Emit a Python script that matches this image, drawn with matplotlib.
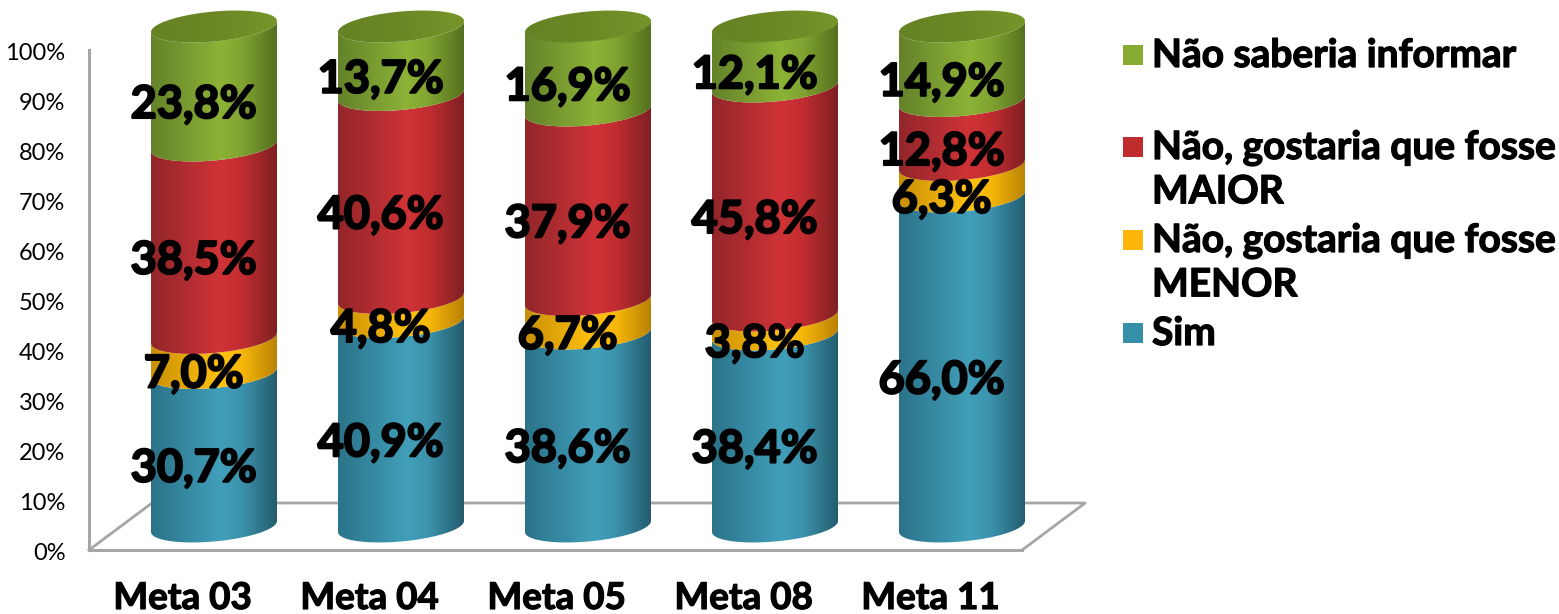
import numpy as np
import matplotlib
matplotlib.use('Agg')
import matplotlib.pyplot as plt
import matplotlib.patheffects as pe
from matplotlib.colors import LinearSegmentedColormap
from matplotlib.patches import PathPatch, Rectangle
from matplotlib.path import Path
from matplotlib.transforms import ScaledTranslation

plt.rcParams['font.family'] = ['Lato', 'DejaVu Sans']

metas = ['Meta 03', 'Meta 04', 'Meta 05', 'Meta 08', 'Meta 11']
sim = [30.7, 40.9, 38.6, 38.4, 66.0]
menor = [7.0, 4.8, 6.7, 3.8, 6.3]
maior = [38.5, 40.6, 37.9, 45.8, 12.8]
nao_sabe = [23.8, 13.7, 16.9, 12.1, 14.9]
y_ticks = [0, 10, 20, 30, 40, 50, 60, 70, 80, 90, 100]

series = [sim, menor, maior, nao_sabe]
# left edge, light band, right of band, right edge for the cylinder shading
shades = [
    ['#2b7389', '#419fba', '#3c93ad', '#235c6e'],
    ['#c98f05', '#ffc20e', '#f7b80a', '#b98204'],
    ['#92262a', '#cf3337', '#c22d30', '#7f2023'],
    ['#64822a', '#8cb236', '#81a431', '#55701f'],
]
top_shade = ['#668224', '#6b8826', '#769529']

W, H = 1559, 614
fig = plt.figure(figsize=(W / 100, H / 100), dpi=100)
ax = fig.add_axes([89 / W, 1 - 550 / H, 935 / W, 500 / H])

# depth of the 3D floor, in axis units
depth_x, depth_y = 63 / 187, 47 / 5
half = 63 / 187
ell_h, ell_tilt = 3.0, 1.1
x_end = 4.49

t = np.linspace(np.pi, 0, 80)
curve_x = half * np.cos(t)
curve_y = ell_tilt * np.cos(t) - ell_h * np.sin(t)


def shade(ax, path, x0, x1, y0, y1, cmap, zorder):
    im = ax.imshow(np.linspace(0, 1, 256)[None, :], cmap=cmap, aspect='auto',
                   extent=[x0, x1, y0, y1], zorder=zorder, interpolation='bilinear')
    patch = PathPatch(path, transform=ax.transData, fc='none', ec='none', clip_on=False)
    ax.add_patch(patch)
    im.set_clip_box(fig.bbox)
    im.set_clip_path(patch)


bold = [pe.withStroke(linewidth=0.9, foreground='black')]
heavy = [pe.withStroke(linewidth=1.5, foreground='black')]

for i in range(len(metas)):
    cx = i + depth_x / 2
    base = depth_y / 2
    bottom = 0
    for s, colors in zip(series, shades):
        top = bottom + s[i]
        xs = np.r_[cx + curve_x, cx + curve_x[::-1]]
        ys = np.r_[base + bottom + curve_y, base + top + curve_y[::-1]]
        cmap = LinearSegmentedColormap.from_list('c', list(zip([0, 0.55, 0.72, 1], colors)))
        shade(ax, Path(np.column_stack([xs, ys])), cx - half, cx + half, base - 5, base + 105, cmap, 3)
        bottom = top
    # top cap of the cylinder
    tt = np.linspace(0, 2 * np.pi, 160)
    cap = Path(np.column_stack([cx + half * np.cos(tt),
                                base + 100 + ell_tilt * np.cos(tt) - ell_h * np.sin(tt)]))
    shade(ax, cap, cx - half, cx + half, 90, 110, LinearSegmentedColormap.from_list('t', top_shade), 4)

    bottom = 0
    for s in series:
        ax.text(i + 0.06, bottom + s[i] / 2 + 0.9, f'{s[i]:.1f}%'.replace('.', ','),
                ha='center', va='center', fontsize=32.5, fontweight='bold',
                color='black', zorder=6, clip_on=False, path_effects=heavy)
        bottom += s[i]

ax.set_xlim(-0.5, 4.5)
ax.set_ylim(0, 100)

# floor of the chart
grey = '#a6a6a6'
ax.plot([-0.5, -0.5 + depth_x, x_end + depth_x, x_end], [0, depth_y, depth_y, 0],
        color=grey, lw=2, zorder=1, clip_on=False)
for side in ['top', 'right']:
    ax.spines[side].set_visible(False)
for side in ['left', 'bottom']:
    ax.spines[side].set_color(grey)
    ax.spines[side].set_linewidth(2.2)
ax.spines['bottom'].set_bounds(-0.5, x_end)
ax.patch.set_alpha(0)

ax.set_yticks(y_ticks)
ax.set_yticklabels([f'{v}%' for v in y_ticks], fontsize=17)
ax.tick_params(axis='y', length=0, pad=17)
for lab in ax.get_yticklabels():
    lab.set_transform(lab.get_transform() + ScaledTranslation(0, -1 / 100, fig.dpi_scale_trans))
ax.set_xticks(range(len(metas)))
ax.set_xticklabels(metas, fontsize=26.5, fontweight='bold', path_effects=bold)
ax.tick_params(axis='x', length=0, pad=23)

# legend, hand placed as in the original
legend_rows = [
    ('Não saberia informar', '#87ab33', 55),
    ('Não, gostaria que fosse\nMAIOR', '#c02c2e', 147),
    ('Não, gostaria que fosse\nMENOR', '#ffb50a', 240),
    ('Sim', '#358fa8', 333),
]
for label, color, y_px in legend_rows:
    fig.add_artist(Rectangle((1123 / W, 1 - (y_px + 10) / H), 20 / W, 20 / H,
                             transform=fig.transFigure, fc=color, ec='none'))
    fig.text(1152 / W, 1 - (y_px - 17) / H, label, fontsize=28, fontweight='bold',
             va='top', ha='left', linespacing=1.32, path_effects=bold)

fig.savefig('out.png', dpi=100)
